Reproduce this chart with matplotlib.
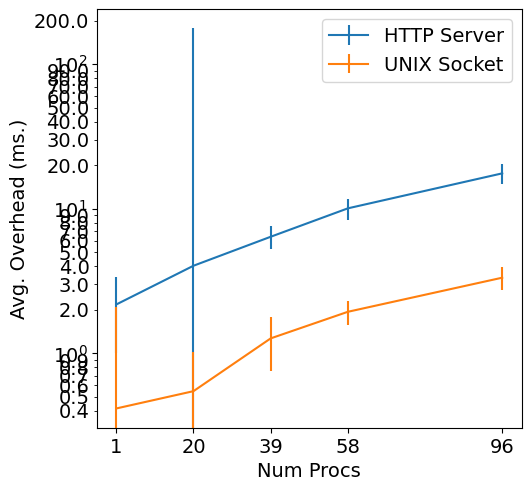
import matplotlib
matplotlib.use("Agg")
import matplotlib.pyplot as plt
from matplotlib.ticker import FormatStrFormatter

num_procs = [1, 20, 39, 58, 96]
http_mean = [2.18, 4.04, 6.41, 10.08, 17.6]
http_err = [1.18, 173.5, 1.15, 1.7, 2.8]
unix_mean = [0.416, 0.548, 1.27, 1.94, 3.34]
unix_err = [1.68, 0.47, 0.51, 0.36, 0.6]

plt.rcParams["font.size"] = 14

fig = plt.figure(figsize=(5.3, 4.91), dpi=100)
ax = fig.add_axes([0.183, 0.128, 0.801, 0.853])
ax.errorbar(num_procs, http_mean, yerr=http_err, label="HTTP Server")
ax.errorbar(num_procs, unix_mean, yerr=unix_err, label="UNIX Socket")
ax.set_yscale("log")
ax.set_ylim(0.304, 240)
ax.set_xticks(num_procs)
ax.yaxis.set_minor_formatter(FormatStrFormatter("%.1f"))
ax.set_xlabel("Num Procs")
ax.set_ylabel("Avg. Overhead (ms.)")
ax.legend(loc="upper right")
fig.savefig("out.png")
